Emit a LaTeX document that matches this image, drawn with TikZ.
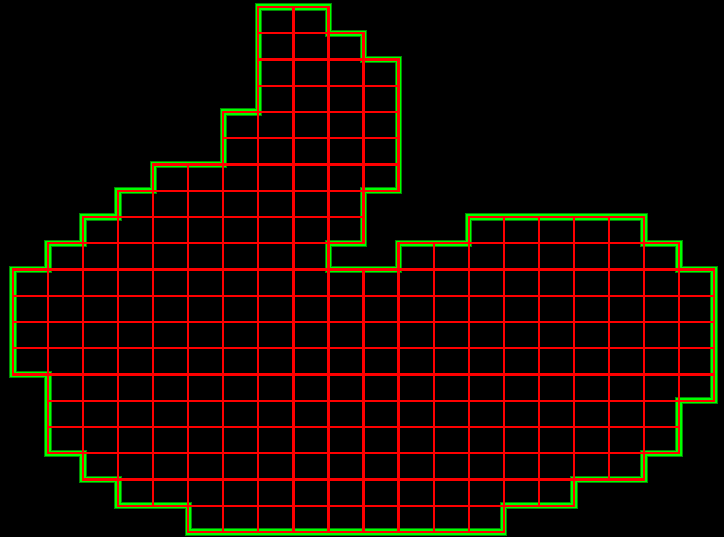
\documentclass[tikz,border=0pt]{standalone}
\usepackage{tikz}
\usetikzlibrary{calc}

\begin{document}
\begin{tikzpicture}[x=35.05pt,y=-26.25pt,
		cellline/.style={draw=red,line width=2.2pt},
		rimdark/.style={draw=green!55!black,line width=7.4pt,line join=miter},
		rimlight/.style={draw=green,line width=5.4pt,line join=miter}]
				 %\draw[color=gray,step=1, help lines,opacity=0.3] (0,0) grid (20,20); %help grids
				 \fill[black] (-0.3709,-0.2667) rectangle (20.285,20.19);
				 \coordinate (o) at (0,0);
				 % outline of the region
				 \foreach \rim in {rimdark,rimlight}
				 \draw[\rim] (7,0) -- (9,0) -- (9,1) -- (10,1) -- (10,2) -- (11,2) -- (11,7) -- (10,7)
						-- (10,9) -- (9,9) -- (9,10) -- (11,10) -- (11,9) -- (13,9) -- (13,8) -- (18,8)
						-- (18,9) -- (19,9) -- (19,10) -- (20,10) -- (20,15) -- (19,15) -- (19,17) -- (18,17)
						-- (18,18) -- (16,18) -- (16,19) -- (14,19) -- (14,20) -- (5,20) -- (5,19) -- (3,19)
						-- (3,18) -- (2,18) -- (2,17) -- (1,17) -- (1,14) -- (0,14) -- (0,10) -- (1,10)
						-- (1,9) -- (2,9) -- (2,8) -- (3,8) -- (3,7) -- (4,7) -- (4,6) -- (6,6) -- (6,4)
						-- (7,4) -- cycle;
				 % cells, row/first column/last column
				 \foreach \r/\a/\b in {0/7/8, 1/7/9, 2/7/10, 3/7/10, 4/6/10, 5/6/10, 6/4/10, 7/3/9,
						8/2/9, 8/13/17, 9/1/8, 9/11/18, 10/0/19, 11/0/19, 12/0/19, 13/0/19, 14/1/19,
						15/1/18, 16/1/18, 17/2/17, 18/3/15, 19/5/13}
				 \foreach \c in {\a,...,\b}
				 \draw[cellline] ($(o)+(\c,\r)$) rectangle ++(1,1);
\end{tikzpicture}
\end{document}
